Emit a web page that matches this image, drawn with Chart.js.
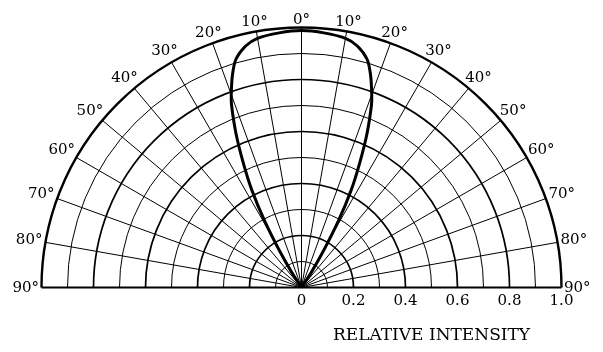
<!DOCTYPE html>
<html>
<head>
<meta charset="utf-8">
<script src="https://cdn.jsdelivr.net/npm/chart.js@4.4.1/dist/chart.umd.min.js"></script>
<style>
    body { margin: 0; background: #fff; }
    #wrap { width: 603px; height: 352px; position: relative; }
</style>
</head>
<body>
<div id="wrap"><canvas id="myChart"></canvas></div>
<script>
// radiation pattern, angle off axis in degrees -> relative intensity
const angles = [-35, -33, -31, -29, -27, -25, -23, -21, -20, -18, -16, -13, -10, -5, 0,
    5, 10, 13, 16, 18, 20, 21, 23, 25, 27, 29, 31, 33, 35];
const intensity = [0, 0.07, 0.16, 0.29, 0.42, 0.53, 0.645, 0.75, 0.79, 0.86, 0.915, 0.955, 0.975, 0.985, 0.99,
    0.985, 0.975, 0.955, 0.915, 0.86, 0.79, 0.75, 0.645, 0.53, 0.42, 0.29, 0.16, 0.07, 0];

const ringValues = [0.1, 0.2, 0.3, 0.4, 0.5, 0.6, 0.7, 0.8, 0.9, 1.0];
const spokeAngles = [-90, -80, -70, -60, -50, -40, -30, -20, -10, 0, 10, 20, 30, 40, 50, 60, 70, 80, 90];
const angleLabels = ['90°', '80°', '70°', '60°', '50°', '40°', '30°', '20°', '10°', '0°',
    '10°', '20°', '30°', '40°', '50°', '60°', '70°', '80°', '90°'];
const tickValues = [0, 0.2, 0.4, 0.6, 0.8, 1.0];
const tickLabels = ['0', '0.2', '0.4', '0.6', '0.8', '1.0'];
const axisTitle = 'RELATIVE INTENSITY';

const rad = d => d * Math.PI / 180;

const points = angles.map((a, i) => ({
    x: intensity[i] * Math.sin(rad(a)),
    y: intensity[i] * Math.cos(rad(a))
}));

const polarGrid = {
    id: 'polarGrid',
    beforeDatasetsDraw(chart) {
        const ctx = chart.ctx;
        const xs = chart.scales.x, ys = chart.scales.y;
        const cx = xs.getPixelForValue(0);
        const cy = ys.getPixelForValue(0);
        const unit = xs.getPixelForValue(1) - cx;
        ctx.save();
        ctx.strokeStyle = '#000';

        ringValues.forEach((v, i) => {
            ctx.beginPath();
            ctx.lineWidth = v === 1.0 ? 2.4 : (i % 2 === 1 ? 1.7 : 1);
            ctx.arc(cx, cy, v * unit, Math.PI, 2 * Math.PI);
            ctx.stroke();
        });

        ctx.lineWidth = 1;
        spokeAngles.forEach(a => {
            if (Math.abs(a) === 90) return;
            ctx.beginPath();
            ctx.moveTo(cx, cy);
            ctx.lineTo(cx + unit * Math.sin(rad(a)), cy - unit * Math.cos(rad(a)));
            ctx.stroke();
        });

        ctx.lineWidth = 2.2;
        ctx.beginPath();
        ctx.moveTo(xs.getPixelForValue(-1), cy);
        ctx.lineTo(xs.getPixelForValue(1), cy);
        ctx.stroke();
        ctx.restore();
    },
    afterDraw(chart) {
        const ctx = chart.ctx;
        const xs = chart.scales.x, ys = chart.scales.y;
        const cx = xs.getPixelForValue(0);
        const cy = ys.getPixelForValue(0);
        const unit = xs.getPixelForValue(1) - cx;
        ctx.save();
        ctx.fillStyle = '#000';
        ctx.font = '15px "DejaVu Serif"';
        ctx.textAlign = 'center';
        ctx.textBaseline = 'middle';

        // degree labels outside the rim
        spokeAngles.forEach((a, i) => {
            const dx = Math.sin(rad(a)), dy = -Math.cos(rad(a));
            const w = ctx.measureText(angleLabels[i]).width;
            const h = 11;
            const gap = 2.5;
            const push = Math.abs(dx) * w / 2 + Math.abs(dy) * h / 2 + gap;
            const px = cx + dx * (unit + push);
            const py = cy + dy * (unit + push) + 1;
            ctx.fillText(angleLabels[i], px, py);
        });

        // radial tick labels along the baseline
        ctx.textBaseline = 'top';
        tickValues.forEach((v, i) => {
            ctx.fillText(tickLabels[i], xs.getPixelForValue(v), cy + 6);
        });

        ctx.font = '17px "DejaVu Serif"';
        ctx.textBaseline = 'middle';
        ctx.fillText(axisTitle, xs.getPixelForValue(0.5), cy + 48);
        ctx.restore();
    }
};

new Chart(document.getElementById('myChart'), {
    type: 'scatter',
    data: {
        datasets: [{
            data: points,
            showLine: true,
            borderColor: '#000',
            borderWidth: 3,
            pointRadius: 0,
            tension: 0.25,
            clip: false
        }]
    },
    options: {
        responsive: true,
        maintainAspectRatio: false,
        animation: false,
        layout: { padding: { left: 41.5, right: 41.5, top: 28, bottom: 64.5 } },
        plugins: { legend: { display: false }, tooltip: { enabled: false } },
        scales: {
            x: { type: 'linear', min: -1, max: 1, display: false },
            y: { type: 'linear', min: 0, max: 1, display: false }
        }
    },
    plugins: [polarGrid]
});
</script>
</body>
</html>
